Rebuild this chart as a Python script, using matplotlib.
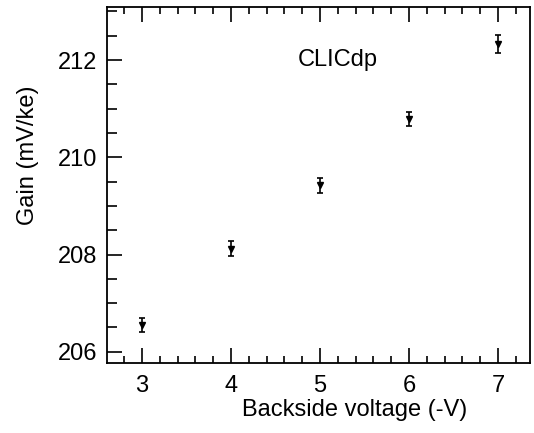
import matplotlib.pyplot as plt
from matplotlib.ticker import MultipleLocator

plt.rcParams['font.family'] = ['Liberation Sans', 'DejaVu Sans']

voltage = [3, 4, 5, 6, 7]
gain = [206.55, 208.12, 209.42, 210.79, 212.33]
gain_err = [0.15, 0.15, 0.15, 0.15, 0.18]

fig = plt.figure(figsize=(5.34, 4.33), dpi=100)
ax = fig.add_axes([0.2004, 0.1617, 0.7921, 0.8221])

ax.errorbar(voltage, gain, yerr=gain_err, fmt='v', color='black',
            markersize=4.5, elinewidth=1.2, capsize=2, capthick=1.2)

ax.set_xlim(2.607, 7.36)
ax.set_ylim(205.77, 213.09)
ax.xaxis.set_major_locator(MultipleLocator(1))
ax.xaxis.set_minor_locator(MultipleLocator(0.2))
ax.yaxis.set_major_locator(MultipleLocator(2))
ax.yaxis.set_minor_locator(MultipleLocator(0.5))
ax.tick_params(which='both', direction='in', top=True, right=False,
               labelsize=17, width=1.2)
ax.tick_params(which='major', length=11, pad=7)
ax.tick_params(axis='x', which='major', pad=9)
ax.tick_params(which='minor', length=5)
ax.tick_params(axis='y', which='minor', length=7)
for s in ax.spines.values():
    s.set_linewidth(1.3)

ax.set_xlabel('Backside voltage (-V)', fontsize=17, ha='center', va='center')
ax.xaxis.set_label_coords(0.586, -0.132)
ax.set_ylabel('Gain (mV/ke)', fontsize=17, ha='center', va='center')
ax.yaxis.set_label_coords(-0.187, 0.584)
ax.text(0.546, 0.851, 'CLICdp', transform=ax.transAxes, fontsize=17,
        ha='center', va='center')

fig.savefig('out.png', dpi=100)
